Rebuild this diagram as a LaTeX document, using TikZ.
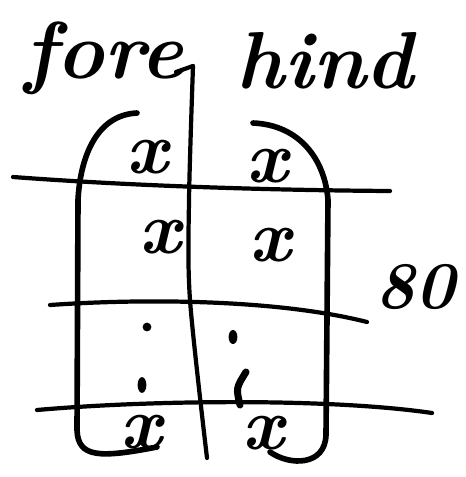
\documentclass[tikz,border=0pt]{standalone}
\usepackage{tikz}
\usetikzlibrary{positioning}

\begin{document}
\begin{tikzpicture}[
  x=0.02cm, y=-0.02cm,
  word/.style={inner sep=0pt, font=\fontsize{46}{50}\selectfont\bfseries\itshape},
  cross/.style={inner sep=0pt, font=\fontsize{42}{44}\selectfont\bfseries\itshape},
  bracket/.style={line width=3.2pt, line cap=round},
  rule/.style={line width=2.4pt, line cap=round},
  blot/.style={fill=black, draw=none},
]
  \useasboundingbox (0,0) rectangle (466,477);

  % Headings
  \node[word, anchor=base] (fore) at (104,78) {fore};
  \node[word, anchor=base] (hind) at (325,88) {hind};
  \node[word, anchor=base, font=\fontsize{38}{40}\selectfont\bfseries\itshape] (count) at (415,308) {80};

  % Divider between fore and hind
  \coordinate (divtop) at (193,66);
  \coordinate (divbot) at (207,458);
  \draw[rule] (176,72) -- (divtop);
  \draw[rule] plot[smooth] coordinates {(divtop) (189,200) (190,300) (divbot)};

  % Row rules
  \draw[rule] (13,177) .. controls (120,185) and (250,190) .. (390,191);
  \draw[rule] (50,305) .. controls (150,298) and (280,300) .. (367,322);
  \draw[rule] (37,410) .. controls (150,400) and (330,398) .. (432,413);

  % Brackets round each column
  \draw[bracket] (137,113) .. controls (95,115) and (80,160) .. (78,200)
    -- (77,430) .. controls (78,458) and (100,458) .. (157,447);
  \draw[bracket] (253,123) .. controls (300,125) and (325,160) .. (328,200)
    -- (326,435) .. controls (325,466) and (290,466) .. (270,452);

  % Entries
  \node[cross] (f1) at (147,157) {x};
  \node[cross] (h1) at (267,166) {x};
  \node[cross] (f2) at (160,237) {x};
  \node[cross] (h2) at (270,245) {x};
  \node[cross] (f3) at (141,432) {x};
  \node[cross] (h3) at (263,433) {x};

  % Dots in between
  \fill[blot] (147,327) circle[radius=2.5pt];
  \fill[blot] (233,337) ellipse[x radius=2.5pt, y radius=4pt];
  \fill[blot] (142,385) ellipse[x radius=2.5pt, y radius=4.5pt];
  \draw[line width=4pt, line cap=round] (246,372) .. controls (236,388) .. (240,405);
\end{tikzpicture}
\end{document}
